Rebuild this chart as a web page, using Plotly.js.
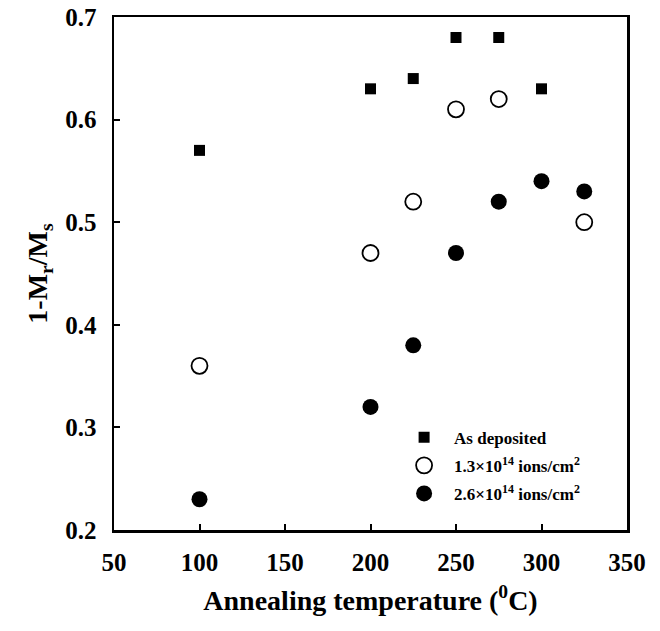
<!DOCTYPE html>
<html><head><meta charset="utf-8">
<script src="https://cdn.plot.ly/plotly-3.0.1.min.js"></script>
<style>body{margin:0;background:#fff}#c{width:660px;height:631px}</style>
</head><body><div id="c"></div>
<script>
const asDepX = [100, 200, 225, 250, 275, 300];
const asDepY = [0.57, 0.63, 0.64, 0.68, 0.68, 0.63];
const d13X = [100, 200, 225, 250, 275, 325];
const d13Y = [0.36, 0.47, 0.52, 0.61, 0.62, 0.50];
const d26X = [100, 200, 225, 250, 275, 300, 325];
const d26Y = [0.23, 0.32, 0.38, 0.47, 0.52, 0.54, 0.53];
const names = ['As deposited', '1.3×10<sup>14</sup> ions/cm<sup>2</sup>', '2.6×10<sup>14</sup> ions/cm<sup>2</sup>'];
const xTicks = [50, 100, 150, 200, 250, 300, 350];
const yTicks = [0.2, 0.3, 0.4, 0.5, 0.6, 0.7];

const font = {family: '"Liberation Serif", "Times New Roman", serif', color: '#000'};
const traces = [
  {x: asDepX, y: asDepY, name: names[0], legendgroup: 'a', mode: 'markers', type: 'scatter',
   marker: {symbol: 'square', size: 11, color: '#000'}},
  {x: d13X, y: d13Y, name: names[1], legendgroup: 'b', mode: 'markers', type: 'scatter',
   marker: {symbol: 'circle-open', size: 16, color: '#000', line: {width: 1.8, color: '#000'}}},
  {x: d26X, y: d26Y, name: names[2], legendgroup: 'c', mode: 'markers', type: 'scatter',
   marker: {symbol: 'circle', size: 16, color: '#000'}}
];
const axBase = {showgrid: false, zeroline: false, showline: true, mirror: true, linewidth: 2.5, linecolor: '#000',
  ticks: 'inside', ticklen: 6, tickwidth: 2, tickcolor: '#000',
  tickfont: Object.assign({size: 25, weight: 'bold'}, font)};
const layout = {
  width: 660, height: 631,
  margin: {l: 114, r: 33, t: 17, b: 101},
  paper_bgcolor: '#fff', plot_bgcolor: '#fff',
  font: font,
  showlegend: true,
  legend: {x: 0.546, y: 0.215, xanchor: 'left', yanchor: 'top', bgcolor: 'rgba(0,0,0,0)',
    font: Object.assign({size: 17, weight: 'bold'}, font), itemwidth: 50,
    traceorder: 'grouped', tracegroupgap: 3},
  xaxis: Object.assign({}, axBase, {range: [50, 350], tickvals: xTicks, ticktext: xTicks.map(String),
    ticklabelstandoff: 8,
    title: {text: 'Annealing temperature (<sup>0</sup>C)', font: Object.assign({size: 28, weight: 'bold'}, font), standoff: 16}}),
  yaxis: Object.assign({}, axBase, {range: [0.2, 0.7], tickvals: yTicks, ticktext: yTicks.map(v => v.toFixed(1)),
    ticklabelstandoff: 10,
    title: {text: '1-M<sub>r</sub>/M<sub>s</sub>', font: Object.assign({size: 28, weight: 'bold'}, font), standoff: 10}})
};
Plotly.newPlot('c', traces, layout, {displayModeBar: false, staticPlot: true});
</script></body></html>
